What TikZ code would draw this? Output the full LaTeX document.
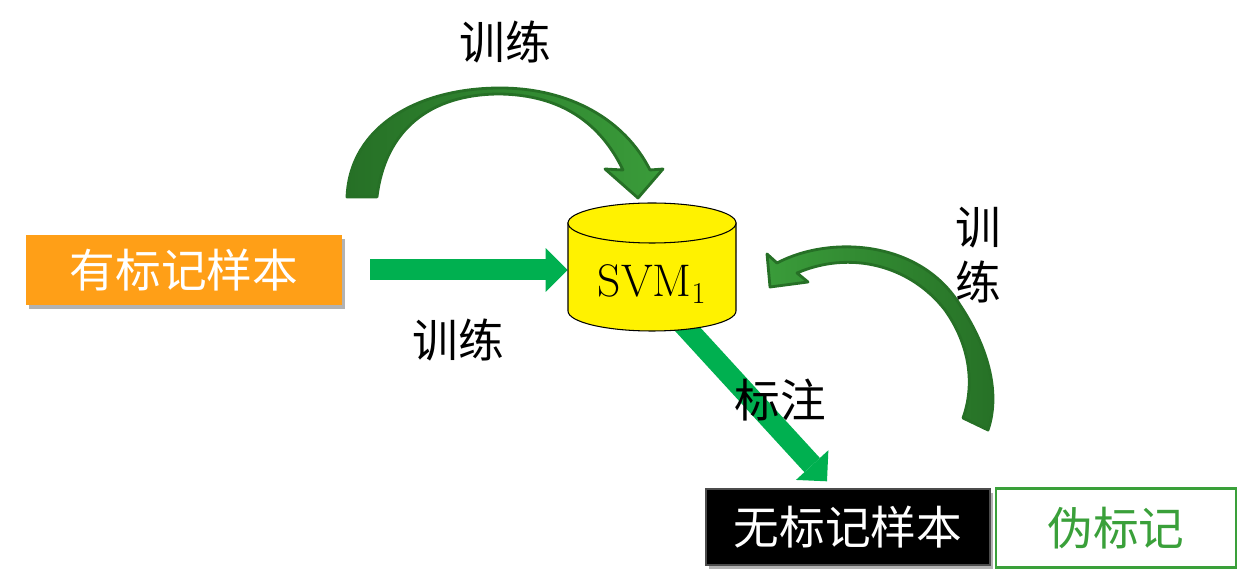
\documentclass[tikz,border=0pt]{standalone}
\usepackage{fontspec}
\usepackage{tikz}
\usetikzlibrary{arrows.meta, shadows, calc}
\newfontfamily\cjk{Noto Sans CJK SC}

\definecolor{flowGreen}{RGB}{0,176,80}
\definecolor{curveLight}{RGB}{58,156,58}
\definecolor{curveDark}{RGB}{38,112,38}
\definecolor{labOrange}{RGB}{255,159,23}
\definecolor{pseudoGreen}{RGB}{58,160,58}

\begin{document}
\begin{tikzpicture}[
        % pixel-like units, y pointing down
        x={(0.02cm,0)},
        y={(0,-0.02cm)},
        every node/.style={font=\cjk\fontsize{26}{31}\selectfont},
        flow/.style={draw=flowGreen, line width=0.42cm,
            -{Triangle[length=0.44cm, width=0.88cm, line width=0pt]}},
        curvearrow/.style={draw=curveDark, line width=1.6pt, line join=round},
        samplebox/.style={minimum width=#1, minimum height=1.45cm, inner sep=0pt,
            drop shadow={shadow xshift=1.5pt, shadow yshift=-2.5pt, fill=black, opacity=0.3}}
    ]
        % Define cylinder parameters
        \def\cylLeft{568}
        \def\cylRight{736}
        \def\cylTop{223}
        \def\cylBottom{311}

        \useasboundingbox (0,0) rectangle (1250,580);

        % Sample boxes
        \node[samplebox=6.32cm, fill=labOrange, text=white, minimum height=1.4cm] (lab) at (184,270) {有标记样本};
        \node[samplebox=5.68cm, fill=black, draw=gray!60!black, line width=0.8pt, text=white, minimum height=1.52cm] (unl) at (848,527) {无标记样本};
        \node[draw=pseudoGreen, line width=1.2pt, text=pseudoGreen, minimum width=4.8cm, minimum height=1.58cm] (pseudo) at (1116,528) {伪标记};

        % Anchor box for the classifier
        \node[minimum width=3.36cm, minimum height=2.56cm, inner sep=0pt] (svm) at (652,267) {};

        % Straight flows, drawn before the cylinder
        \coordinate (svmOut) at ([xshift=0.58cm, yshift=-1.1cm]svm.center);
        \coordinate (unlIn) at ([xshift=-0.42cm, yshift=0.14cm]unl.north);
        \draw[flow] ([xshift=0.56cm]lab.east) -- (lab.east -| svm.west);
        \draw[flow] (svmOut) -- (unlIn);

        % Cylinder body and lid
        \filldraw[fill=yellow, draw=black, line width=0.6pt]
            (\cylLeft,\cylTop) -- (\cylLeft,\cylBottom)
            arc[start angle=180, end angle=360, x radius=1.68cm, y radius=0.4cm]
            -- (\cylRight,\cylTop) -- cycle;
        \filldraw[fill=yellow, draw=black, line width=0.6pt]
            (652,\cylTop) ellipse [x radius=1.68cm, y radius=0.4cm];
        \node[font=\fontsize{26}{30}\selectfont] at (652,284) {SVM$_1$};

        % Curved arrow over the top (labelled samples back into the model)
        \filldraw[curvearrow, left color=curveDark, right color=curveLight]
            (347,197) .. controls (350,125) and (420,88) .. (500,88)
            .. controls (570,88) and (625,120) .. (650,170)
            -- (663,169) -- (638,198) -- (605,169) -- (623,170)
            .. controls (600,122) and (560,95) .. (500,94)
            .. controls (430,94) and (385,130) .. (377,197) -- cycle;

        % Curved arrow on the right (pseudo labels back into the model)
        \filldraw[curvearrow, left color=curveLight, right color=curveDark]
            (777,263) .. controls (830,235) and (920,240) .. (960,305)
            .. controls (990,350) and (1000,395) .. (988,430)
            -- (963,418)
            .. controls (975,385) and (970,345) .. (945,310)
            .. controls (910,265) and (850,250) .. (797,273)
            -- (808,282) -- (770,287) -- (767,254) -- cycle;

        % Labels
        \node (trainTop) at (505,42) {训练};
        \node (trainLow) at (458,340) {训练};
        \node (mark) at (780,400) {标注};
        \node[align=center] (trainRight) at (978,255) {训\\练};

    \end{tikzpicture}
\end{document}
